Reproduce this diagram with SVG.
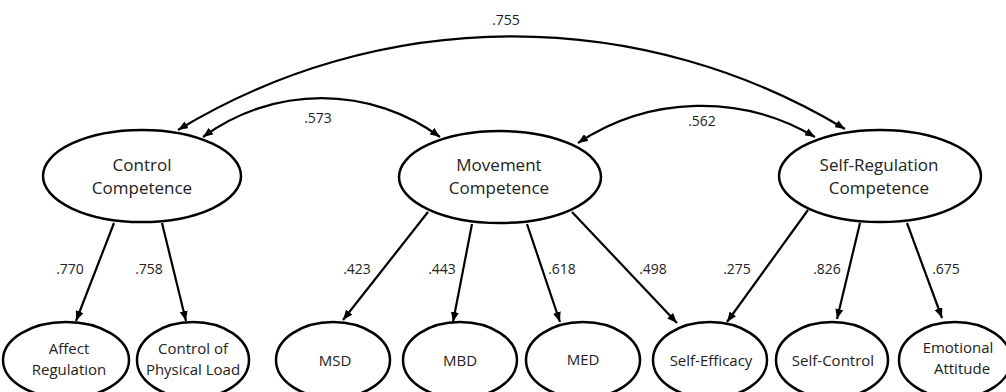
<svg xmlns="http://www.w3.org/2000/svg" width="1006" height="392" viewBox="0 0 1006 392">
<style>
.node ellipse{fill:#fff;stroke:#000;stroke-width:2.5}
.lbl{font-family:"Open Sans","Noto Sans",sans-serif;fill:#222;text-anchor:middle}
.big{font-size:17px}
.small{font-size:15px}
.num{font-family:"Open Sans","Noto Sans",sans-serif;fill:#222;text-anchor:middle;font-size:14px}
.conn path{fill:none;stroke:#000;stroke-width:2.2}
</style>
<defs>
<marker id="ah" viewBox="0 0 10 8" refX="10" refY="4" markerWidth="10" markerHeight="8" markerUnits="userSpaceOnUse" orient="auto-start-reverse">
<path d="M0,0 L10,4 L0,8 z" fill="#000"/>
</marker>
</defs>
<rect width="1006" height="392" fill="#fff"/>
<g id="connectors" class="conn">
<path d="M178,130 A644,644 0 0 1 845,129" marker-start="url(#ah)" marker-end="url(#ah)"/>
<path d="M203,137 A200,200 0 0 1 440,137" marker-start="url(#ah)" marker-end="url(#ah)"/>
<path d="M578,143 A223,223 0 0 1 815,137" marker-start="url(#ah)" marker-end="url(#ah)"/>
<path d="M114,223 L76,321" marker-end="url(#ah)"/>
<path d="M162,223 L186,321" marker-end="url(#ah)"/>
<path d="M428,212 L343,320" marker-end="url(#ah)"/>
<path d="M472,224 L453,322" marker-end="url(#ah)"/>
<path d="M527,224 L560,322" marker-end="url(#ah)"/>
<path d="M572,212 L677,323" marker-end="url(#ah)"/>
<path d="M808,210 L727,322" marker-end="url(#ah)"/>
<path d="M860,223 L837,319" marker-end="url(#ah)"/>
<path d="M907,223 L942,318" marker-end="url(#ah)"/>
</g>
<g id="labels">
<text class="num" x="506" y="25">.755</text>
<text class="num" x="318" y="123">.573</text>
<text class="num" x="702" y="126">.562</text>
<text class="num" x="70" y="274">.770</text>
<text class="num" x="149" y="274">.758</text>
<text class="num" x="357" y="274">.423</text>
<text class="num" x="442" y="274">.443</text>
<text class="num" x="562" y="274">.618</text>
<text class="num" x="653" y="274">.498</text>
<text class="num" x="737" y="274">.275</text>
<text class="num" x="827" y="274">.826</text>
<text class="num" x="946" y="274">.675</text>
</g>
<g id="control-competence" class="node">
<ellipse cx="142" cy="176" rx="99" ry="46"/>
<text class="lbl big" x="142" y="171">Control</text>
<text class="lbl big" x="142" y="194">Competence</text>
</g>
<g id="movement-competence" class="node">
<ellipse cx="500" cy="177" rx="101" ry="46"/>
<text class="lbl big" x="499" y="171">Movement</text>
<text class="lbl big" x="499" y="194">Competence</text>
</g>
<g id="self-regulation-competence" class="node">
<ellipse cx="880" cy="176" rx="101" ry="46"/>
<text class="lbl big" x="879" y="171">Self-Regulation</text>
<text class="lbl big" x="879" y="194">Competence</text>
</g>
<g id="affect-regulation" class="node">
<ellipse cx="66" cy="360" rx="63" ry="38"/>
<text class="lbl small" x="69" y="354">Affect</text>
<text class="lbl small" x="69" y="375">Regulation</text>
</g>
<g id="control-physical-load" class="node">
<ellipse cx="193" cy="360" rx="56" ry="38"/>
<text class="lbl small" x="193" y="354">Control of</text>
<text class="lbl small" x="193" y="375">Physical Load</text>
</g>
<g id="msd" class="node">
<ellipse cx="333" cy="360" rx="57" ry="38"/>
<text class="lbl small" x="335" y="366">MSD</text>
</g>
<g id="mbd" class="node">
<ellipse cx="460" cy="360" rx="57" ry="38"/>
<text class="lbl small" x="460" y="366">MBD</text>
</g>
<g id="med" class="node">
<ellipse cx="583" cy="360" rx="57" ry="38"/>
<text class="lbl small" x="583" y="365">MED</text>
</g>
<g id="self-efficacy" class="node">
<ellipse cx="710" cy="360" rx="57" ry="38"/>
<text class="lbl small" x="711" y="366">Self-Efficacy</text>
</g>
<g id="self-control" class="node">
<ellipse cx="832" cy="360" rx="56" ry="38"/>
<text class="lbl small" x="833" y="366">Self-Control</text>
</g>
<g id="emotional-attitude" class="node">
<ellipse cx="955" cy="360" rx="56" ry="38"/>
<text class="lbl small" x="958" y="353">Emotional</text>
<text class="lbl small" x="962" y="374">Attitude</text>
</g>
</svg>
